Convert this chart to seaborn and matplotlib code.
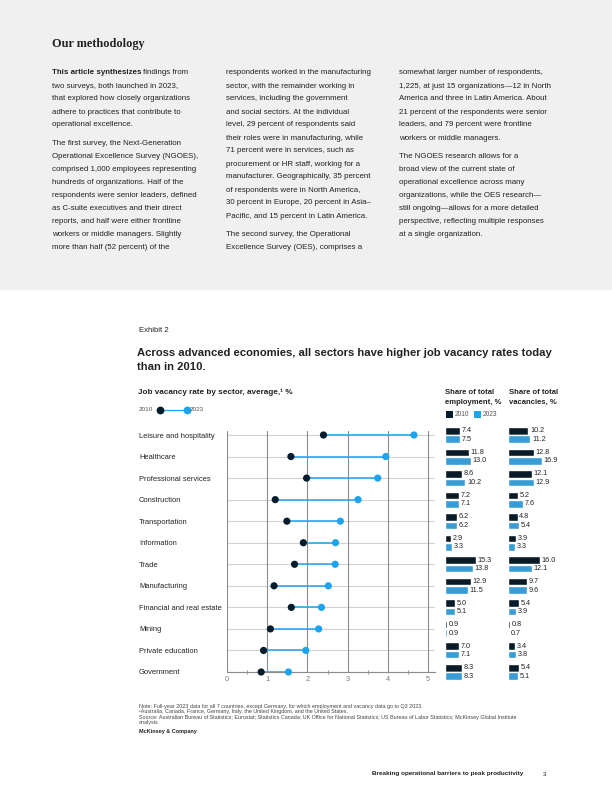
import numpy as np
import pandas as pd
import matplotlib
matplotlib.use("Agg")
import matplotlib.pyplot as plt
import seaborn as sns
from matplotlib.patches import Rectangle
from matplotlib.lines import Line2D

# ── data ───────────────────────────────────────────────
sectors = ["Leisure and hospitality", "Healthcare", "Professional services",
           "Construction", "Transportation", "Information", "Trade",
           "Manufacturing", "Financial and real estate", "Mining",
           "Private education", "Government"]
vacancy_2010 = [2.40, 1.59, 1.98, 1.20, 1.49, 1.90, 1.68, 1.17, 1.60, 1.08, 0.91, 0.85]
vacancy_2023 = [4.65, 3.95, 3.75, 3.26, 2.82, 2.70, 2.69, 2.52, 2.35, 2.28, 1.96, 1.53]
emp_2010 = [7.4, 11.8, 8.6, 7.2, 6.2, 2.9, 15.3, 12.9, 5.0, 0.9, 7.0, 8.3]
emp_2023 = [7.5, 13.0, 10.2, 7.1, 6.2, 3.3, 13.8, 11.5, 5.1, 0.9, 7.1, 8.3]
vac_2010 = [10.2, 12.8, 12.1, 5.2, 4.8, 3.9, 16.0, 9.7, 5.4, 0.8, 3.4, 5.4]
vac_2023 = [11.2, 16.9, 12.9, 7.6, 5.4, 3.3, 12.1, 9.6, 3.9, 0.7, 3.8, 5.1]
years = ["2010", "2023"]
x_ticks = [0, 1, 2, 3, 4, 5]

col1 = [["This article synthesizes findings from", "two surveys, both launched in 2023,",
         "that explored how closely organizations", "adhere to practices that contribute to",
         "operational excellence."],
        ["The first survey, the Next-Generation", "Operational Excellence Survey (NGOES),",
         "comprised 1,000 employees representing", "hundreds of organizations. Half of the",
         "respondents were senior leaders, defined", "as C-suite executives and their direct",
         "reports, and half were either frontline", "workers or middle managers. Slightly",
         "more than half (52 percent) of the"]]
col2 = [["respondents worked in the manufacturing", "sector, with the remainder working in",
         "services, including the government", "and social sectors. At the individual",
         "level, 29 percent of respondents said", "their roles were in manufacturing, while",
         "71 percent were in services, such as", "procurement or HR staff, working for a",
         "manufacturer. Geographically, 35 percent", "of respondents were in North America,",
         "30 percent in Europe, 20 percent in Asia\u2013", "Pacific, and 15 percent in Latin America."],
        ["The second survey, the Operational", "Excellence Survey (OES), comprises a"]]
col3 = [["somewhat larger number of respondents,", "1,225, at just 15 organizations\u201412 in North",
         "America and three in Latin America. About", "21 percent of the respondents were senior",
         "leaders, and 79 percent were frontline", "workers or middle managers."],
        ["The NGOES research allows for a", "broad view of the current state of",
         "operational excellence across many", "organizations, while the OES research\u2014",
         "still ongoing\u2014allows for a more detailed", "perspective, reflecting multiple responses",
         "at a single organization."]]

notes = ["Note: Full-year 2023 data for all 7 countries, except Germany, for which employment and vacancy data go to Q3 2023.",
         "\u00b9Australia, Canada, France, Germany, Italy, the United Kingdom, and the United States.",
         "Source: Australian Bureau of Statistics; Eurostat; Statistics Canada; UK Office for National Statistics; US Bureau of Labor Statistics; McKinsey Global Institute",
         "analysis"]

NAVY = "#051c2c"
BLUE = "#1ea3ef"
TXT = "#222222"

sns.set_style("white")
plt.rcParams["font.family"] = ["Liberation Sans", "DejaVu Sans"]

W, H = 612, 792
fig = plt.figure(figsize=(W / 100, H / 100), dpi=100)
fig.patch.set_facecolor("white")


def fx(px):
    return px / W


def fy(py):
    return 1 - py / H


def T(px, py, s, **kw):
    kw.setdefault("color", TXT)
    kw.setdefault("va", "center")
    return fig.text(fx(px), fy(py), s, **kw)


# grey methodology band
fig.add_artist(Rectangle((0, fy(290)), 1, 290 / H, transform=fig.transFigure,
                         facecolor="#f0f0f0", edgecolor="none", zorder=0))

T(52, 44, "Our methodology", fontsize=8.8, fontweight="bold", family=["Liberation Serif"])

body_fs = 5.7
renderer = fig.canvas.get_renderer()
for x0, col in [(52, col1), (226, col2), (399, col3)]:
    y = 73
    for pi, para in enumerate(col):
        for li, line in enumerate(para):
            if x0 == 52 and pi == 0 and li == 0:
                b = T(x0, y, "This article synthesizes", fontsize=body_fs, fontweight="bold")
                bb = b.get_window_extent(renderer=renderer)
                T(bb.x1 + 1.5, y, "findings from", fontsize=body_fs)
            else:
                T(x0, y, line, fontsize=body_fs)
            y += 13
        y += 5.5

# ── exhibit header ───────────────────────────────────────
T(139, 331, "Exhibit 2", fontsize=5.6)
T(137, 353, "Across advanced economies, all sectors have higher job vacancy rates today",
  fontsize=8.1, fontweight="bold")
T(137, 367, "than in 2010.", fontsize=8.1, fontweight="bold")
T(138, 392, "Job vacancy rate by sector, average,\u00b9 %", fontsize=5.9, fontweight="bold")

# dot legend
T(139, 410, "2010", fontsize=4.6, color="#555555")
fig.add_artist(Line2D([fx(160), fx(187)], [fy(410), fy(410)], color=BLUE, lw=0.9,
                      transform=fig.transFigure))
fig.add_artist(Line2D([fx(160)], [fy(410)], marker="o", ms=4.6, color=NAVY, lw=0,
                      transform=fig.transFigure))
fig.add_artist(Line2D([fx(187)], [fy(410)], marker="o", ms=4.6, color=BLUE, lw=0,
                      transform=fig.transFigure))
T(190, 410, "2023", fontsize=4.6, color="#555555")

# bar headers and legend
for x0, lines in [(445, ["Share of total", "employment, %"]), (509, ["Share of total", "vacancies, %"])]:
    T(x0, 392, lines[0], fontsize=5.5, fontweight="bold")
    T(x0, 402, lines[1], fontsize=5.5, fontweight="bold")
fig.add_artist(Rectangle((fx(446), fy(417.5)), 6.5 / W, 6.5 / H, transform=fig.transFigure,
                         facecolor=NAVY, edgecolor="none"))
T(455, 414, "2010", fontsize=4.8, color="#555555")
fig.add_artist(Rectangle((fx(474), fy(417.5)), 6.5 / W, 6.5 / H, transform=fig.transFigure,
                         facecolor=BLUE, edgecolor="none"))
T(483, 414, "2023", fontsize=4.8, color="#555555")

# ── dot chart ───────────────────────────────────────────
row_top = 435
row_bot = 672
step = (row_bot - row_top) / (len(sectors) - 1)
ax_top = row_top - 0.5 * step
ax_bot = row_bot + 0.5 * step
xmax = 5.17
ax = fig.add_axes([fx(227), fy(ax_bot), (xmax * 40.2) / W, (ax_bot - ax_top) / H])
ax.set_facecolor("none")

rows = np.arange(len(sectors))
dots = pd.DataFrame({
    "row": np.concatenate([rows, rows]),
    "rate": vacancy_2010 + vacancy_2023,
    "year": [years[0]] * len(sectors) + [years[1]] * len(sectors),
})

for r in rows:
    ax.plot([0, xmax], [r, r], color="#d2d2d2", lw=0.8, zorder=0)
for xt in x_ticks:
    ax.plot([xt, xt], [-0.2, len(sectors) - 1], color="#8c8c8c", lw=0.8, zorder=1)
ax.hlines(rows, vacancy_2010, vacancy_2023, color=BLUE, lw=1.1, zorder=2)
sns.scatterplot(data=dots, x="rate", y="row", hue="year", palette=[NAVY, BLUE],
                s=27, linewidth=0, legend=False, ax=ax, zorder=3)

ax.set_xlim(0, xmax)
ax.set_ylim(len(sectors) - 0.5, -0.5)
for side in ["top", "right", "left"]:
    ax.spines[side].set_visible(False)
ax.spines["bottom"].set_position(("data", len(sectors) - 1))
ax.spines["bottom"].set_color("#8c8c8c")
ax.spines["bottom"].set_linewidth(0.8)
ax.set_xticks(x_ticks)
ax.set_xticklabels([str(v) for v in x_ticks], fontsize=5.3, color="#777777")
ax.set_xticks(np.arange(0, 5.01, 0.5), minor=True)
ax.tick_params(axis="x", which="major", length=0, pad=3)
ax.tick_params(axis="x", which="minor", length=3, width=0.6, color="#8c8c8c",
               direction="inout", bottom=True)
ax.set_yticks(rows)
ax.set_yticklabels(sectors, fontsize=5.4, color=TXT)
ax.tick_params(axis="y", length=0, pad=(227 - 139) / 1.389)
for lab in ax.get_yticklabels():
    lab.set_horizontalalignment("left")
ax.set_xlabel("")
ax.set_ylabel("")

# ── share bars ──────────────────────────────────────────
def share_panel(left_px, v2010, v2023):
    bx = fig.add_axes([fx(left_px), fy(ax_bot), 60 / W, (ax_bot - ax_top) / H])
    df = pd.DataFrame({
        "sector": sectors + sectors,
        "share": v2010 + v2023,
        "year": [years[0]] * len(sectors) + [years[1]] * len(sectors),
    })
    sns.barplot(data=df, x="share", y="sector", hue="year", order=sectors,
                hue_order=years, palette=[NAVY, BLUE], orient="h", width=0.78,
                gap=0.1, legend=False, ax=bx)
    for cont in bx.containers:
        bx.bar_label(cont, fmt="%.1f", padding=1.2, fontsize=5.2, color=TXT)
    bx.set_xlim(0, 30)
    bx.set_ylim(len(sectors) - 0.5, -0.5)
    bx.set_axis_off()
    return bx


share_panel(445, emp_2010, emp_2023)
share_panel(508, vac_2010, vac_2023)

# ── footnotes and footer ────────────────────────────────
for i, line in enumerate(notes):
    T(139, 706.5 + i * 5.3, line, fontsize=3.9, color="#444444")
T(139, 731, "McKinsey & Company", fontsize=4.0, fontweight="bold")
T(523, 774, "Breaking operational barriers to peak productivity", fontsize=4.6,
  fontweight="bold", ha="right")
T(543, 774, "3", fontsize=4.6)

fig.savefig("out.png", dpi=100)
